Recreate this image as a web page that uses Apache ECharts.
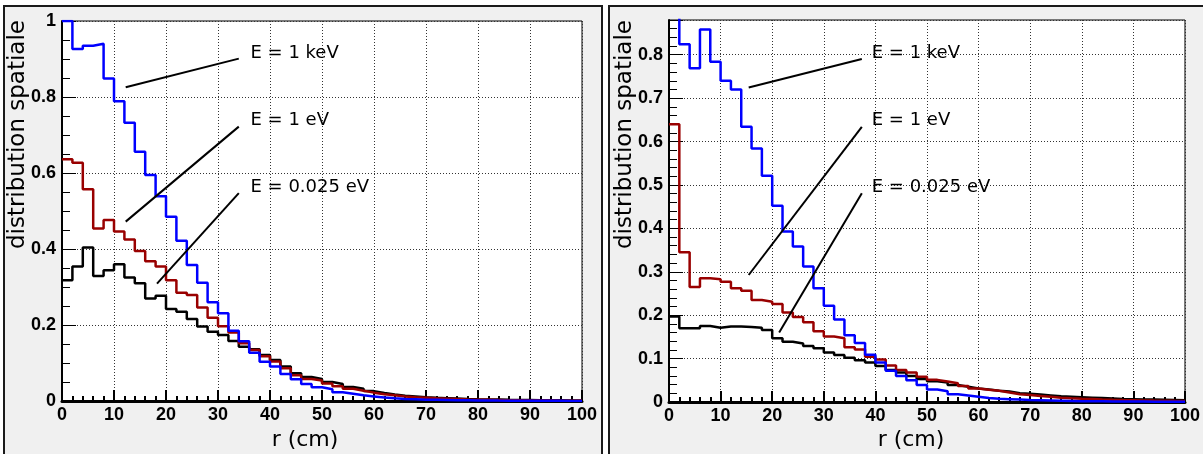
<!DOCTYPE html>
<html><head><meta charset="utf-8">
<script src="https://cdn.jsdelivr.net/npm/echarts@6/dist/echarts.min.js"></script>
<style>html,body{margin:0;padding:0;background:#fff}#c{width:1203px;height:454px}</style>
</head><body><div id="c"></div><script>
// bin lower edges (cm), last edge = 100
const binStarts = [0,2,4,6,8,10,12,14,16,18,20,22,24,26,28,30,32,34,36,38,40,42,44,46,48,50,52,54,56,58,60,62,64,66,68,70,72,74,76,78,80,82,84,86,88,90,92,94,96,98];
const binEndLast = 100;

// Left panel
const leftKeV = [1.0,0.926,0.935,0.940,0.849,0.789,0.732,0.656,0.595,0.539,
  0.485,0.422,0.358,0.311,0.260,0.231,0.185,0.157,0.127,0.103,
  0.091,0.071,0.057,0.045,0.036,0.031,0.023,0.019,0.015,0.012,
  0.009,0.007,0.0055,0.0045,0.0035,0.003,0.0025,0.002,0.0017,0.0014,
  0.0012,0.001,0.0009,0.0008,0.0007,0.0006,0.0005,0.0004,0.0003,0.0003];
const leftEV = [0.636,0.627,0.557,0.454,0.476,0.446,0.425,0.395,0.368,0.354,
  0.318,0.285,0.279,0.246,0.219,0.197,0.180,0.152,0.134,0.118,
  0.104,0.086,0.068,0.058,0.054,0.046,0.039,0.032,0.027,0.022,
  0.018,0.015,0.012,0.010,0.0085,0.007,0.006,0.005,0.0042,0.0035,
  0.003,0.0025,0.002,0.0017,0.0014,0.0012,0.001,0.0008,0.0007,0.0006];
const leftThermal = [0.318,0.354,0.404,0.329,0.344,0.360,0.325,0.310,0.270,0.277,
  0.242,0.235,0.216,0.196,0.182,0.174,0.158,0.143,0.136,0.121,
  0.108,0.091,0.073,0.063,0.058,0.050,0.045,0.037,0.032,0.026,
  0.021,0.017,0.014,0.012,0.010,0.0085,0.0075,0.0065,0.0055,0.0048,
  0.0042,0.0037,0.0032,0.0028,0.0025,0.0022,0.002,0.0018,0.0016,0.0014];

// Right panel
const rightKeV = [0.90,0.824,0.769,0.858,0.784,0.740,0.720,0.634,0.584,0.521,
  0.452,0.393,0.358,0.312,0.262,0.222,0.190,0.154,0.136,0.109,
  0.091,0.072,0.060,0.050,0.039,0.029,0.025,0.018,0.015,0.012,
  0.009,0.0075,0.0065,0.0055,0.0045,0.004,0.0035,0.003,0.0025,0.002,
  0.0018,0.0016,0.0014,0.0012,0.001,0.0009,0.0008,0.0007,0.0006,0.0005];
const rightEV = [0.640,0.345,0.265,0.285,0.283,0.277,0.262,0.256,0.235,0.231,
  0.226,0.206,0.196,0.184,0.163,0.151,0.147,0.126,0.121,0.104,
  0.098,0.084,0.074,0.068,0.058,0.051,0.047,0.043,0.037,0.031,
  0.028,0.026,0.022,0.018,0.016,0.014,0.012,0.010,0.0085,0.0075,
  0.0068,0.006,0.0053,0.0047,0.0042,0.0037,0.0033,0.003,0.0027,0.0025];
const rightThermal = [0.197,0.170,0.170,0.175,0.171,0.174,0.174,0.173,0.171,0.166,
  0.147,0.139,0.135,0.129,0.124,0.114,0.108,0.102,0.096,0.091,
  0.083,0.074,0.068,0.060,0.053,0.048,0.045,0.039,0.035,0.031,
  0.029,0.026,0.024,0.020,0.019,0.017,0.015,0.013,0.012,0.011,
  0.010,0.009,0.008,0.007,0.0065,0.006,0.0055,0.005,0.0045,0.004];

const labelNames = ['E = 1 keV','E = 1 eV','E = 0.025 eV'];
// annotation segments in data coords [x1,y1,x2,y2] and label anchor [x,y]
const leftLines = [[12.25,0.8255,34.0,0.901],[12.25,0.472,34.0,0.722],[18.27,0.309,34.0,0.547]];
const leftLabelPos = [[36.15,0.916],[36.15,0.739],[36.15,0.563]];
const rightLines = [[15.44,0.7247,37.37,0.790],[15.44,0.2926,37.37,0.634],[21.35,0.160,37.37,0.481]];
const rightLabelPos = [[39.2,0.804],[39.2,0.650],[39.2,0.495]];

const xTitle = 'r (cm)';
const yTitle = 'distribution spatiale';

const BLUE = '#0000ff', RED = '#990000', BLACK = '#000000';
const comic = '"DejaVu Sans", sans-serif';

function histo(vals, idx, color){
  const d = vals.map((v,i)=>[binStarts[i], v]);
  d.push([binEndLast, vals[vals.length-1]]);
  return {type:'line', xAxisIndex:idx, yAxisIndex:idx, data:d, step:'end', symbol:'none',
    lineStyle:{color:color, width:2.5}, itemStyle:{color:color}, silent:true, clip:true, z:3, animation:false};
}
function annot(lines, pos, idx){
  const out = [];
  lines.forEach(l=>{
    out.push({type:'line', xAxisIndex:idx, yAxisIndex:idx, data:[[l[0],l[1]],[l[2],l[3]]], symbol:'none',
      lineStyle:{color:'#000', width:2}, silent:true, z:4, animation:false});
  });
  out.push({type:'scatter', xAxisIndex:idx, yAxisIndex:idx, symbolSize:1, silent:true, z:5, animation:false,
    itemStyle:{color:'rgba(0,0,0,0)', opacity:1},
    data: pos.map((p,i)=>({value:p, name:labelNames[i]})),
    label:{show:true, position:'right', distance:0, formatter:'{b}', color:'#000', opacity:1, fontFamily:comic, fontSize:18, fontWeight:500}});
  return out;
}
function xAx(idx){
  return {type:'value', gridIndex:idx, min:0, max:100, interval:10,
    axisLine:{show:true, onZero:false, lineStyle:{color:'#000', width:3}},
    axisTick:{show:true, inside:true, length:11, lineStyle:{color:'#000', width:2}},
    minorTick:{show:true, splitNumber:5, length:5, lineStyle:{color:'#000', width:2}},
    splitLine:{show:true, lineStyle:{color:'#333', type:[1,2], width:1}},
    axisLabel:{color:'#000', fontFamily:'"Liberation Sans", Arial, sans-serif', fontWeight:'bold', fontSize:18, margin:5}};
}
function yAx(idx, max, interval, minorSplit, showMax){
  return {type:'value', gridIndex:idx, min:0, max:max, interval:interval,
    axisLine:{show:true, onZero:false, lineStyle:{color:'#000', width:2}},
    axisTick:{show:true, inside:true, length:14, lineStyle:{color:'#000', width:1}},
    minorTick:{show:true, splitNumber:minorSplit, length:8, lineStyle:{color:'#000', width:1}},
    splitLine:{show:true, lineStyle:{color:'#333', type:[1,2], width:1}},
    axisLabel:{color:'#000', fontFamily:'"Liberation Sans", Arial, sans-serif', fontWeight:'bold', fontSize:18, margin:6, showMaxLabel:showMax}};
}

const chart = echarts.init(document.getElementById('c'), null, {renderer:'canvas'});
chart.setOption({
  animation:false,
  backgroundColor:'#ffffff',
  graphic:[
    {type:'rect', z:-10, shape:{x:4, y:6, width:598, height:470}, style:{fill:'#f0f0f0', stroke:'#1a1a1a', lineWidth:2}},
    {type:'rect', z:-10, shape:{x:609, y:6, width:600, height:470}, style:{fill:'#f0f0f0', stroke:'#1a1a1a', lineWidth:2}},
    {type:'text', z:10, x:305, y:440, style:{text:xTitle, fontFamily:comic, fontSize:22, fill:'#000', textAlign:'center', textVerticalAlign:'middle'}},
    {type:'text', z:10, x:911, y:440, style:{text:xTitle, fontFamily:comic, fontSize:22, fill:'#000', textAlign:'center', textVerticalAlign:'middle'}},
    {type:'text', z:10, x:18, y:20, rotation:Math.PI/2, style:{text:yTitle, fontFamily:comic, fontSize:23, fill:'#000', textAlign:'right', textVerticalAlign:'middle'}},
    {type:'text', z:10, x:625, y:20, rotation:Math.PI/2, style:{text:yTitle, fontFamily:comic, fontSize:23, fill:'#000', textAlign:'right', textVerticalAlign:'middle'}}
  ],
  grid:[
    {left:62, top:21, width:520, height:380, show:true, backgroundColor:'#ffffff', borderColor:'#000', borderWidth:1, containLabel:false},
    {left:669, top:20, width:520, height:382, show:true, backgroundColor:'#ffffff', borderColor:'#000', borderWidth:1, containLabel:false}
  ],
  xAxis:[xAx(0), xAx(1)],
  yAxis:[yAx(0, 1, 0.2, 4, true), yAx(1, 0.88, 0.1, 5, false)],
  series:[
    histo(leftThermal,0,BLACK), histo(leftEV,0,RED), histo(leftKeV,0,BLUE),
    histo(rightThermal,1,BLACK), histo(rightEV,1,RED), histo(rightKeV,1,BLUE),
    ...annot(leftLines, leftLabelPos, 0),
    ...annot(rightLines, rightLabelPos, 1)
  ]
});
</script></body></html>
